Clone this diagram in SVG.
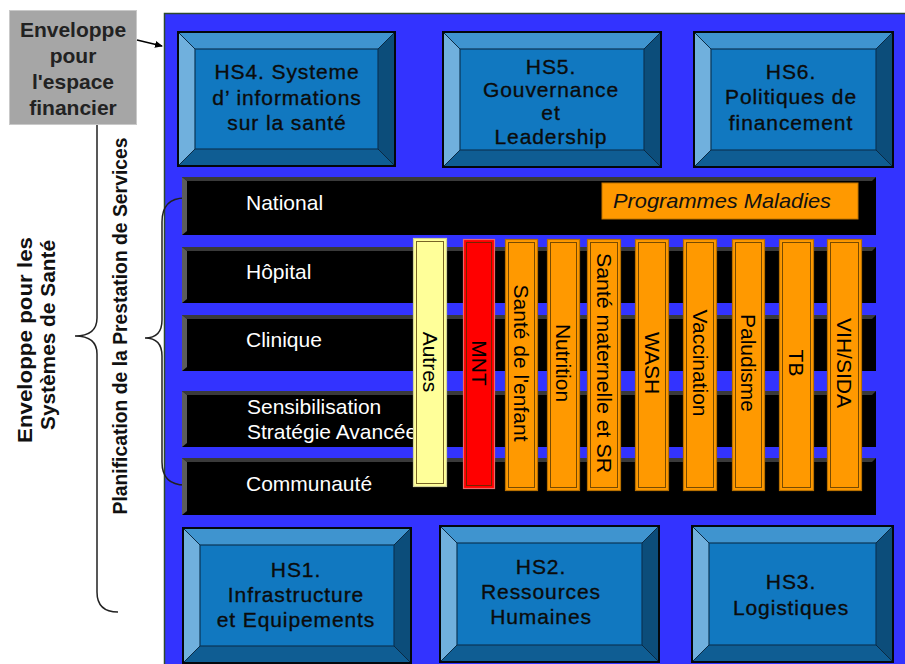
<svg xmlns="http://www.w3.org/2000/svg" width="905" height="664" viewBox="0 0 905 664">
  <defs>
    <style>
      .sans{font-family:"Liberation Sans",Arial,"DejaVu Sans",sans-serif}
      .hs-top{fill:#3f94cf}
      .hs-left{fill:#70b0dd}
      .hs-right{fill:#0c4d7a}
      .hs-bot{fill:#0f5d93}
      .hs-face{fill:#1178c0;stroke:#0a3555;stroke-width:1.2}
      .hs-edge{fill:none;stroke:#03070c;stroke-width:2}
      .hs-diag{stroke:#0a2a44;stroke-width:1}
      .hs-text{font-size:21px;fill:#0b0b0b;stroke:#0b0b0b;stroke-width:0.35;text-anchor:middle;letter-spacing:0.9px}
      .bar{fill:#000}
      .bar-top{fill:#3a3a3a}
      .bar-left{fill:#5c5c5c}
      .row-label{font-size:21px;fill:#fff}
      .col-orange{fill:#ff9900;stroke:#b87000;stroke-width:1.2}
      .col-red{fill:#ff0000;stroke:#e86a6a;stroke-width:1.2}
      .col-yellow{fill:#ffff99;stroke:#cfcf96;stroke-width:1.2}
      .col-inner{fill:none;stroke:#4a3000;stroke-width:1;opacity:0.75}
      .col-text{font-size:21px;fill:#000;text-anchor:middle}
      .side-text{font-size:21px;font-weight:bold;fill:#111;text-anchor:middle}
      .brace{fill:none;stroke:#222;stroke-width:1.5}
    </style>
    <marker id="arrowhead" markerWidth="8" markerHeight="8" refX="7" refY="4" orient="auto" markerUnits="userSpaceOnUse">
      <path d="M0,0.5 L8,4 L0,7.5 Z" fill="#000"/>
    </marker>
  </defs>

  <rect width="905" height="664" fill="#fff"/>

  <!-- health-system envelope background -->
  <rect id="envelope-bg" x="164.5" y="13.5" width="745" height="656" fill="#3333ff" stroke="#2e4a2e" stroke-width="1.5"/>

  <!-- financial space box -->
  <g id="espace-financier">
    <rect x="9.5" y="10.5" width="127" height="114" fill="#a6a6a6" stroke="#c9c9c9" stroke-width="1"/>
    <g class="sans" font-size="21" font-weight="bold" fill="#222" text-anchor="middle">
      <text x="73" y="37">Enveloppe</text>
      <text x="73" y="63">pour</text>
      <text x="73" y="89">l'espace</text>
      <text x="73" y="115">financier</text>
    </g>
  </g>

  <!-- connectors: arrow and braces -->
  <g id="connectors">
    <line x1="137" y1="40" x2="162" y2="46" stroke="#000" stroke-width="1.5" marker-end="url(#arrowhead)"/>
    <path class="brace" d="M97,125 L97,318 Q97,336 75,336 Q97,336 97,354 L97,592 Q97,612 118,612"/>
    <path class="brace" d="M185,198 Q162,198 162,222 L162,320 Q162,338 145,338 Q162,338 162,356 L162,462 Q162,485 185,485"/>
  </g>

  <!-- side labels -->
  <g id="side-labels" class="sans">
    <text class="side-text" transform="translate(32,340) rotate(-90)" textLength="206" lengthAdjust="spacingAndGlyphs">Enveloppe pour les</text>
    <text class="side-text" transform="translate(55,335) rotate(-90)" textLength="190" lengthAdjust="spacingAndGlyphs">Systèmes de Santé</text>
    <text class="side-text" font-size="19" transform="translate(127,326) rotate(-90)" textLength="377" lengthAdjust="spacingAndGlyphs">Planification de la Prestation de Services</text>
  </g>

  <!-- HS4 -->
  <g id="hs4">
    <polygon class="hs-top" points="178,32 395,32 378,49 195,49"/>
    <polygon class="hs-left" points="178,32 195,49 195,149 178,166"/>
    <polygon class="hs-right" points="395,32 395,166 378,149 378,49"/>
    <polygon class="hs-bot" points="178,166 195,149 378,149 395,166"/>
    <rect class="hs-face" x="195" y="49" width="183" height="100"/>
    <path class="hs-diag" d="M178,32 L195,49 M395,32 L378,49 M178,166 L195,149 M395,166 L378,149"/>
    <rect class="hs-edge" x="178" y="32" width="217" height="134"/>
    <g class="sans hs-text">
      <text x="287" y="79">HS4.  Systeme</text>
      <text x="287" y="105">d’ informations</text>
      <text x="287" y="130">sur la santé</text>
    </g>
  </g>

  <!-- HS5 -->
  <g id="hs5">
    <polygon class="hs-top" points="443,32 661,32 644,49 460,49"/>
    <polygon class="hs-left" points="443,32 460,49 460,150 443,167"/>
    <polygon class="hs-right" points="661,32 661,167 644,150 644,49"/>
    <polygon class="hs-bot" points="443,167 460,150 644,150 661,167"/>
    <rect class="hs-face" x="460" y="49" width="184" height="101"/>
    <path class="hs-diag" d="M443,32 L460,49 M661,32 L644,49 M443,167 L460,150 M661,167 L644,150"/>
    <rect class="hs-edge" x="443" y="32" width="218" height="135"/>
    <g class="sans hs-text">
      <text x="551" y="74">HS5.</text>
      <text x="551" y="97">Gouvernance</text>
      <text x="551" y="120">et</text>
      <text x="551" y="144">Leadership</text>
    </g>
  </g>

  <!-- HS6 -->
  <g id="hs6">
    <polygon class="hs-top" points="694,32 893,32 876,49 711,49"/>
    <polygon class="hs-left" points="694,32 711,49 711,150 694,167"/>
    <polygon class="hs-right" points="893,32 893,167 876,150 876,49"/>
    <polygon class="hs-bot" points="694,167 711,150 876,150 893,167"/>
    <rect class="hs-face" x="711" y="49" width="165" height="101"/>
    <path class="hs-diag" d="M694,32 L711,49 M893,32 L876,49 M694,167 L711,150 M893,167 L876,150"/>
    <rect class="hs-edge" x="694" y="32" width="199" height="135"/>
    <g class="sans hs-text">
      <text x="791" y="79">HS6.</text>
      <text x="791" y="104">Politiques de</text>
      <text x="791" y="130">financement</text>
    </g>
  </g>

  <!-- service delivery levels -->
  <g id="level-national">
    <rect class="bar" x="182" y="177" width="694" height="58"/>
    <polygon class="bar-top" points="182,177 876,177 872,181 187,181"/>
    <polygon class="bar-left" points="182,177 187,181 187,231 182,235"/>
    <text class="sans row-label" x="246" y="210">National</text>
  </g>
  <g id="level-hopital">
    <rect class="bar" x="182" y="247" width="694" height="56"/>
    <polygon class="bar-top" points="182,247 876,247 872,251 187,251"/>
    <polygon class="bar-left" points="182,247 187,251 187,299 182,303"/>
    <text class="sans row-label" x="246" y="279">Hôpital</text>
  </g>
  <g id="level-clinique">
    <rect class="bar" x="182" y="315" width="694" height="56"/>
    <polygon class="bar-top" points="182,315 876,315 872,319 187,319"/>
    <polygon class="bar-left" points="182,315 187,319 187,367 182,371"/>
    <text class="sans row-label" x="246" y="347">Clinique</text>
  </g>
  <g id="level-sensibilisation">
    <rect class="bar" x="182" y="391" width="694" height="56"/>
    <polygon class="bar-top" points="182,391 876,391 872,395 187,395"/>
    <polygon class="bar-left" points="182,391 187,395 187,443 182,447"/>
    <text class="sans row-label" x="247" y="414">Sensibilisation</text>
    <text class="sans row-label" x="247" y="439">Stratégie Avancée</text>
  </g>
  <g id="level-communaute">
    <rect class="bar" x="182" y="458" width="694" height="57"/>
    <polygon class="bar-top" points="182,458 876,458 872,462 187,462"/>
    <polygon class="bar-left" points="182,458 187,462 187,511 182,515"/>
    <text class="sans row-label" x="246" y="491">Communauté</text>
  </g>

  <!-- disease programmes header -->
  <g id="programmes-maladies">
    <rect x="602" y="183" width="256" height="36" fill="#ff9900" stroke="#c07400" stroke-width="1"/>
    <text class="sans" x="613" y="208" font-size="21" font-style="italic" fill="#111" textLength="218" lengthAdjust="spacingAndGlyphs">Programmes Maladies</text>
  </g>

  <!-- programme columns -->
  <g id="col-autres">
    <rect class="col-yellow" x="413.5" y="238.5" width="33" height="248"/>
    <rect class="col-inner" x="416.5" y="241.5" width="27" height="242"/>
    <text class="sans col-text" transform="translate(430,362) rotate(90)" dy="7">Autres</text>
  </g>
  <g id="col-mnt">
    <rect class="col-red" x="463.5" y="239.5" width="31" height="249"/>
    <rect class="col-inner" x="466.5" y="242.5" width="25" height="243" stroke="#600000"/>
    <text class="sans col-text" transform="translate(479,363) rotate(90)" dy="7">MNT</text>
  </g>
  <g id="col-sante-enfant">
    <rect class="col-orange" x="505.5" y="239.5" width="32" height="251"/>
    <rect class="col-inner" x="508.5" y="242.5" width="26" height="245"/>
    <text class="sans col-text" transform="translate(521,363) rotate(90)" dy="7">Santé de l'enfant</text>
  </g>
  <g id="col-nutrition">
    <rect class="col-orange" x="547.5" y="239.5" width="32" height="251"/>
    <rect class="col-inner" x="550.5" y="242.5" width="26" height="245"/>
    <text class="sans col-text" transform="translate(563,363) rotate(90)" dy="7">Nutrition</text>
  </g>
  <g id="col-sante-maternelle">
    <rect class="col-orange" x="587.5" y="239.5" width="33" height="251"/>
    <rect class="col-inner" x="590.5" y="242.5" width="27" height="245"/>
    <text class="sans col-text" transform="translate(604,363) rotate(90)" dy="7" textLength="220" lengthAdjust="spacingAndGlyphs">Santé maternelle et SR</text>
  </g>
  <g id="col-wash">
    <rect class="col-orange" x="635.5" y="239.5" width="33" height="251"/>
    <rect class="col-inner" x="638.5" y="242.5" width="27" height="245"/>
    <text class="sans col-text" transform="translate(652,363) rotate(90)" dy="7">WASH</text>
  </g>
  <g id="col-vaccination">
    <rect class="col-orange" x="683.5" y="239.5" width="33" height="251"/>
    <rect class="col-inner" x="686.5" y="242.5" width="27" height="245"/>
    <text class="sans col-text" transform="translate(700,363) rotate(90)" dy="7">Vaccination</text>
  </g>
  <g id="col-paludisme">
    <rect class="col-orange" x="732.5" y="239.5" width="32" height="251"/>
    <rect class="col-inner" x="735.5" y="242.5" width="26" height="245"/>
    <text class="sans col-text" transform="translate(748,363) rotate(90)" dy="7">Paludisme</text>
  </g>
  <g id="col-tb">
    <rect class="col-orange" x="779.5" y="239.5" width="34" height="251"/>
    <rect class="col-inner" x="782.5" y="242.5" width="28" height="245"/>
    <text class="sans col-text" transform="translate(796,363) rotate(90)" dy="7">TB</text>
  </g>
  <g id="col-vih-sida">
    <rect class="col-orange" x="827.5" y="239.5" width="34" height="251"/>
    <rect class="col-inner" x="830.5" y="242.5" width="28" height="245"/>
    <text class="sans col-text" transform="translate(844,363) rotate(90)" dy="7">VIH/SIDA</text>
  </g>

  <!-- HS1 -->
  <g id="hs1">
    <polygon class="hs-top" points="183,528 411,528 394,545 200,545"/>
    <polygon class="hs-left" points="183,528 200,545 200,646 183,663"/>
    <polygon class="hs-right" points="411,528 411,663 394,646 394,545"/>
    <polygon class="hs-bot" points="183,663 200,646 394,646 411,663"/>
    <rect class="hs-face" x="200" y="545" width="194" height="101"/>
    <path class="hs-diag" d="M183,528 L200,545 M411,528 L394,545 M183,663 L200,646 M411,663 L394,646"/>
    <rect class="hs-edge" x="183" y="528" width="228" height="135"/>
    <g class="sans hs-text">
      <text x="296" y="577">HS1.</text>
      <text x="296" y="602">Infrastructure</text>
      <text x="296" y="627">et Equipements</text>
    </g>
  </g>

  <!-- HS2 -->
  <g id="hs2">
    <polygon class="hs-top" points="440,526 659,526 642,543 457,543"/>
    <polygon class="hs-left" points="440,526 457,543 457,645 440,662"/>
    <polygon class="hs-right" points="659,526 659,662 642,645 642,543"/>
    <polygon class="hs-bot" points="440,662 457,645 642,645 659,662"/>
    <rect class="hs-face" x="457" y="543" width="185" height="102"/>
    <path class="hs-diag" d="M440,526 L457,543 M659,526 L642,543 M440,662 L457,645 M659,662 L642,645"/>
    <rect class="hs-edge" x="440" y="526" width="219" height="136"/>
    <g class="sans hs-text">
      <text x="541" y="574">HS2.</text>
      <text x="541" y="599">Ressources</text>
      <text x="541" y="624">Humaines</text>
    </g>
  </g>

  <!-- HS3 -->
  <g id="hs3">
    <polygon class="hs-top" points="692,526 893,526 876,543 709,543"/>
    <polygon class="hs-left" points="692,526 709,543 709,645 692,662"/>
    <polygon class="hs-right" points="893,526 893,662 876,645 876,543"/>
    <polygon class="hs-bot" points="692,662 709,645 876,645 893,662"/>
    <rect class="hs-face" x="709" y="543" width="167" height="102"/>
    <path class="hs-diag" d="M692,526 L709,543 M893,526 L876,543 M692,662 L709,645 M893,662 L876,645"/>
    <rect class="hs-edge" x="692" y="526" width="201" height="136"/>
    <g class="sans hs-text">
      <text x="791" y="589">HS3.</text>
      <text x="791" y="615">Logistiques</text>
    </g>
  </g>
</svg>
